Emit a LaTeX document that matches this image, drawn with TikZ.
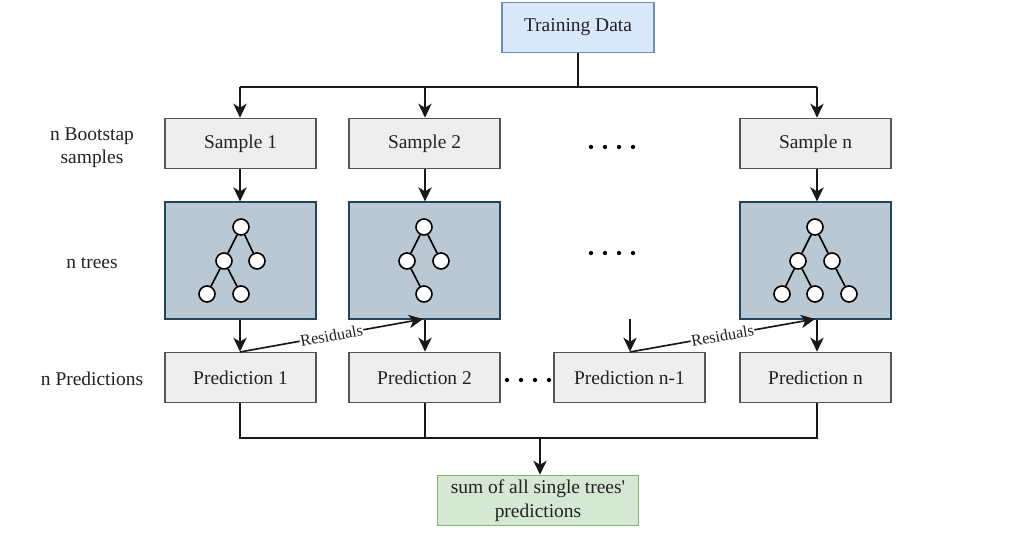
\documentclass[tikz,border=0pt]{standalone}
\usepackage{fontspec}
\setmainfont{Liberation Serif}
\usetikzlibrary{arrows.meta}
\definecolor{tdfill}{HTML}{DAE8FC}
\definecolor{tddraw}{HTML}{6C8EBF}
\definecolor{gfill}{HTML}{EEEEEE}
\definecolor{gdraw}{HTML}{555555}
\definecolor{trfill}{HTML}{BAC8D3}
\definecolor{trdraw}{HTML}{23445D}
\definecolor{sfill}{HTML}{D5E8D4}
\definecolor{sdraw}{HTML}{82B366}
\definecolor{txt}{HTML}{222222}
\tikzset{
  box/.style={draw=gdraw, fill=gfill, line width=1.2pt, minimum width=113pt, minimum height=37.5pt, inner sep=0pt, text=txt, font=\fontsize{14.6}{17}\selectfont},
  treebox/.style={draw=trdraw, fill=trfill, line width=1.2pt, minimum width=113pt, minimum height=87.5pt, inner sep=0pt},
  tdbox/.style={box, draw=tddraw, fill=tdfill},
  sumbox/.style={box, draw=sdraw, fill=sfill, minimum width=151pt, align=center, font=\fontsize{14.6}{18}\selectfont},
  lbl/.style={text=txt, align=center, font=\fontsize{14.6}{17.5}\selectfont},
  tn/.style={circle, draw=black, fill=white, line width=1.2pt, minimum size=12pt, inner sep=0pt},
  te/.style={line width=1.2pt},
  conn/.style={line width=1.25pt, draw=black!90},
  arr/.style={conn, -{Stealth[length=10.5pt,width=10pt,inset=3pt]}},
  reslbl/.style={sloped, fill=white, inner sep=0.5pt, text=txt, font=\fontsize{12.2}{14}\selectfont},
  dotmark/.style={circle, fill=black, inner sep=0pt, minimum size=3.2pt}
}
\begin{document}
\begin{tikzpicture}[x=0.75pt,y=-0.75pt]
\useasboundingbox (0,0) rectangle (1017,542);
% top
\node[tdbox, minimum width=114pt] (td) at (578,27.5) {Training Data};
\coordinate (split) at (578,87);
\coordinate (s1t) at (240,87);
\coordinate (s2t) at (425,87);
\coordinate (snt) at (817,87);
% samples
\node[box] (s1) at (240.5,143.5) {Sample 1};
\node[box] (s2) at (424.5,143.5) {Sample 2};
\node[box] (sn) at (815.5,143.5) {Sample n};
\foreach \i/\x in {1/591,2/605,3/619,4/633}{\node[dotmark] (da\i) at (\x,147) {};}
% trees
\node[treebox] (t1) at (240.5,260.5) {};
\node[treebox] (t2) at (424.5,260.5) {};
\node[treebox] (tn) at (815.5,260.5) {};
\foreach \i/\x in {1/591,2/605,3/619,4/633}{\node[dotmark] (db\i) at (\x,253) {};}
% predictions
\node[box] (p1) at (240.5,377.5) {Prediction 1};
\node[box] (p2) at (424.5,377.5) {Prediction 2};
\node[box] (pm) at (629.5,377.5) {Prediction n-1};
\node[box] (pn) at (815.5,377.5) {Prediction n};
\foreach \i/\x in {1/507,2/521,3/535,4/549}{\node[dotmark] (dc\i) at (\x,380) {};}
% sum
\node[sumbox] (sum) at (538,500.5) {sum of all single trees\textquotesingle\\predictions};
% row labels
\node[lbl] (l1) at (92,148) {n Bootstap\\samples};
\node[lbl] (l2) at (92,263) {n trees};
\node[lbl] (l3) at (92,379) {n Predictions};
% tree 1
\node[tn] (a1) at (241,227) {};
\node[tn] (a2) at (224,261) {};
\node[tn] (a3) at (257,261) {};
\node[tn] (a4) at (207,294) {};
\node[tn] (a5) at (241,294) {};
\draw[te] (a1)--(a2) (a1)--(a3) (a2)--(a4) (a2)--(a5);
% tree 2
\node[tn] (b1) at (424,227) {};
\node[tn] (b2) at (407,261) {};
\node[tn] (b3) at (441,261) {};
\node[tn] (b4) at (424,294) {};
\draw[te] (b1)--(b2) (b1)--(b3) (b2)--(b4);
% tree n
\node[tn] (c1) at (815,227) {};
\node[tn] (c2) at (798,261) {};
\node[tn] (c3) at (832,261) {};
\node[tn] (c4) at (782,294) {};
\node[tn] (c5) at (815,294) {};
\node[tn] (c6) at (849,294) {};
\draw[te] (c1)--(c2) (c1)--(c3) (c2)--(c4) (c2)--(c5) (c3)--(c6);
% top connectors
\draw[conn] (td.south) -- (split);
\draw[conn] (s1t) -- (snt);
\draw[arr] (s1t) -- (s1.north -| s1t);
\draw[arr] (s2t) -- (s2.north -| s2t);
\draw[arr] (snt) -- (sn.north -| snt);
% sample -> tree
\draw[arr] (s1.south -| s1t) -- (t1.north -| s1t);
\draw[arr] (s2.south -| s2t) -- (t2.north -| s2t);
\draw[arr] (sn.south -| snt) -- (tn.north -| snt);
% tree -> prediction
\draw[arr] (t1.south -| s1t) -- (p1.north -| s1t);
\draw[arr] (t2.south -| s2t) -- (p2.north -| s2t);
\draw[arr] (tn.south -| snt) -- (pn.north -| snt);
\coordinate (pmt) at (630,319);
\draw[arr] (pmt) -- (pm.north -| pmt);
% residuals
\coordinate (r1a) at (240,352);
\coordinate (r1b) at (423,319);
\draw[arr] (r1a) -- node[reslbl]{Residuals} (r1b);
\coordinate (r2a) at (630,352);
\coordinate (r2b) at (815,319);
\draw[arr] (r2a) -- node[reslbl]{Residuals} (r2b);
% bottom
\coordinate (j1) at (240,438);
\coordinate (j2) at (425,438);
\coordinate (jn) at (817,438);
\coordinate (jm) at (540,438);
\draw[conn] (p1.south -| j1) -- (j1) -- (jn) -- (pn.south -| jn);
\draw[conn] (p2.south -| j2) -- (j2);
\draw[arr] (jm) -- (sum.north -| jm);
\end{tikzpicture}
\end{document}
